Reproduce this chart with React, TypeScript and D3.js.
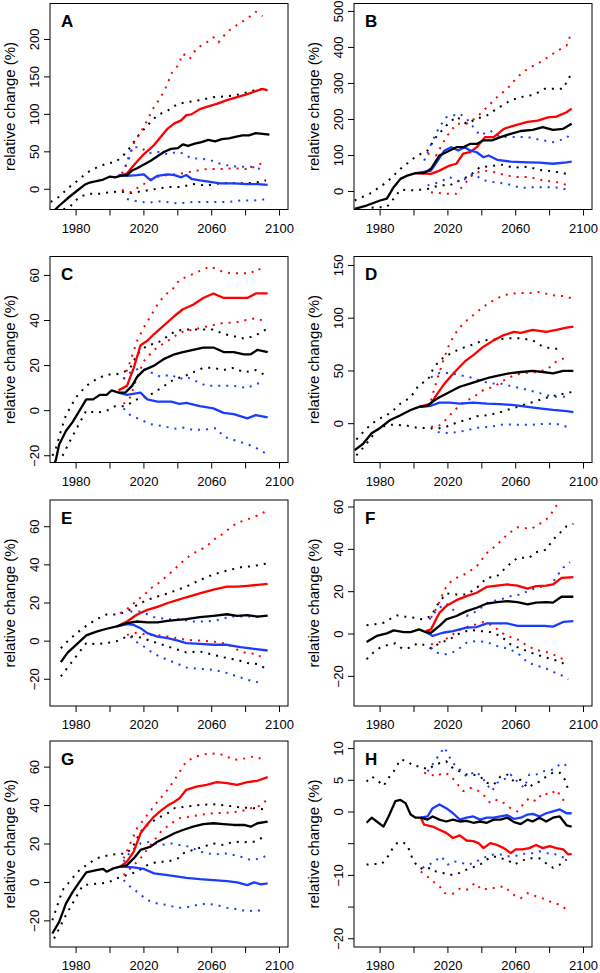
import React from 'react';
import * as d3 from 'd3';

type Pt = [number, number];

// ---------- Panel A ----------
const aBlack: Pt[] = [[1966,-31],[1970,-22],[1975,-12],[1980,-3],[1985,6],[1988,9],[1992,11],[1996,13],[2000,17],[2003,16],[2006,18],[2010,19],[2013,25],[2016,28],[2020,33],[2024,38],[2028,44],[2032,50],[2036,54],[2040,55],[2043,60],[2046,58],[2050,61],[2054,63],[2058,66],[2062,64],[2066,67],[2070,68],[2074,70],[2078,72],[2082,72],[2086,75],[2090,74],[2094,73]];
const aBlackHi: Pt[] = [[1965,-17],[1970,-10],[1975,1],[1980,10],[1987,23],[1993,30],[1999,35],[2003,36],[2007,43],[2012,56],[2016,70],[2022,85],[2028,99],[2034,105],[2040,114],[2045,116],[2053,119],[2061,123],[2069,124],[2077,127],[2085,132],[2092,135]];
const aBlackLo: Pt[] = [[1968,-30],[1976,-24],[1982,-10],[1988,-6],[1994,-6],[2000,-4],[2006,-3],[2012,-5],[2018,-3],[2026,0],[2034,3],[2042,3],[2049,7],[2057,5],[2065,8],[2073,8],[2081,8],[2089,10],[2092,12]];
const aRed: Pt[] = [[2005,18],[2010,21],[2014,32],[2020,47],[2026,59],[2030,70],[2034,81],[2038,88],[2042,92],[2045,99],[2048,100],[2053,107],[2057,110],[2063,114],[2069,119],[2075,123],[2081,127],[2086,131],[2090,134],[2093,132]];
const aRedHi: Pt[] = [[2007,21],[2011,39],[2014,61],[2018,76],[2022,92],[2026,110],[2030,123],[2034,141],[2036,154],[2040,165],[2043,181],[2047,174],[2051,188],[2057,196],[2061,203],[2064,196],[2069,210],[2076,221],[2081,228],[2086,237],[2090,231]];
const aRedLo: Pt[] = [[2007,-1],[2012,-4],[2020,7],[2026,16],[2034,19],[2042,21],[2049,24],[2057,27],[2065,27],[2073,28],[2081,27],[2087,31],[2091,38]];
const aBlue: Pt[] = [[2005,19],[2010,18],[2016,19],[2020,20],[2024,12],[2028,18],[2034,20],[2038,19],[2042,16],[2045,19],[2048,14],[2053,12],[2059,10],[2065,8],[2073,8],[2081,7],[2087,7],[2093,6]];
const aBlueHi: Pt[] = [[2009,30],[2013,56],[2018,56],[2023,48],[2028,50],[2034,47],[2040,50],[2044,47],[2048,41],[2053,41],[2059,39],[2065,34],[2071,31],[2077,30],[2083,30],[2089,27]];
const aBlueLo: Pt[] = [[2010,-13],[2016,-16],[2022,-18],[2030,-16],[2040,-19],[2049,-17],[2059,-17],[2069,-17],[2077,-15],[2085,-15],[2093,-13]];

// ---------- Panel B ----------
const bBlack: Pt[] = [[1965,-48],[1972,-39],[1980,-25],[1984,-20],[1988,12],[1992,35],[1996,44],[2001,51],[2006,51],[2010,63],[2015,100],[2019,109],[2025,123],[2029,123],[2033,132],[2037,132],[2041,142],[2046,142],[2051,151],[2057,160],[2063,168],[2070,171],[2076,179],[2082,171],[2088,174],[2093,188]];
const bBlackHi: Pt[] = [[1965,-25],[1974,-6],[1984,26],[1992,63],[2001,97],[2008,114],[2013,151],[2019,183],[2025,208],[2031,188],[2037,202],[2043,211],[2049,230],[2057,253],[2063,262],[2071,269],[2077,285],[2082,285],[2088,285],[2090,304],[2093,329]];
const bBlackLo: Pt[] = [[1975,-45],[1984,-43],[1988,-20],[1992,5],[2000,3],[2008,7],[2015,17],[2021,17],[2027,31],[2033,44],[2039,68],[2045,70],[2051,75],[2059,66],[2067,69],[2074,60],[2082,56],[2090,49]];
const bRed: Pt[] = [[2001,51],[2010,49],[2015,58],[2021,72],[2025,77],[2029,105],[2033,109],[2037,123],[2042,151],[2047,151],[2053,174],[2059,183],[2067,193],[2073,197],[2079,206],[2084,208],[2090,220],[2093,230]];
const bRedHi: Pt[] = [[2008,105],[2013,100],[2019,151],[2025,188],[2031,188],[2037,206],[2043,234],[2049,262],[2055,285],[2061,318],[2067,341],[2073,355],[2079,373],[2085,392],[2090,405],[2093,443]];
const bRedLo: Pt[] = [[2010,-2],[2018,-6],[2025,-6],[2029,17],[2035,49],[2041,58],[2047,54],[2055,44],[2061,40],[2068,40],[2076,31],[2084,26],[2091,17]];
const bBlue: Pt[] = [[2001,51],[2010,58],[2014,86],[2018,114],[2022,123],[2026,114],[2030,123],[2033,114],[2037,109],[2041,95],[2044,100],[2049,88],[2057,83],[2067,81],[2074,80],[2082,77],[2090,81],[2093,83]];
const bBlueHi: Pt[] = [[2006,86],[2011,142],[2015,179],[2019,206],[2023,211],[2027,216],[2031,202],[2035,179],[2039,156],[2045,169],[2051,151],[2059,151],[2067,151],[2074,144],[2082,137],[2090,148],[2093,165]];
const bBlueLo: Pt[] = [[2008,17],[2015,26],[2021,40],[2027,26],[2035,49],[2041,31],[2047,26],[2055,21],[2063,10],[2071,12],[2079,12],[2087,10],[2091,3]];

// ---------- Panel C ----------
const cBlack: Pt[] = [[1966,-26],[1968,-22],[1970,-15],[1974,-9],[1978,-5],[1982,0],[1986,5],[1990,5],[1994,7],[1998,7],[2001,9],[2005,8],[2009,8],[2013,11],[2016,15],[2020,18],[2026,20],[2032,23],[2038,25],[2043,26],[2049,27],[2055,28],[2061,28],[2067,26],[2073,26],[2079,25],[2083,25],[2087,27],[2093,26]];
const cBlackHi: Pt[] = [[1966,-20],[1968,-17],[1971,-9],[1974,-2],[1980,6],[1986,11],[1992,14],[1998,16],[2003,16],[2008,17],[2012,19],[2016,25],[2022,29],[2028,30],[2034,33],[2038,35],[2043,36],[2049,36],[2055,36],[2061,36],[2067,34],[2073,33],[2079,32],[2085,33],[2092,36]];
const cBlackLo: Pt[] = [[1972,-20],[1976,-14],[1981,-7],[1986,0],[1992,-1],[1998,0],[2003,2],[2009,2],[2016,5],[2021,6],[2026,8],[2032,11],[2038,14],[2043,15],[2049,17],[2055,19],[2061,19],[2067,18],[2073,19],[2079,17],[2086,18],[2091,16]];
const cRed: Pt[] = [[2005,9],[2010,11],[2014,19],[2018,29],[2022,31],[2026,34],[2032,38],[2038,42],[2043,45],[2049,47],[2055,50],[2061,52],[2067,50],[2075,50],[2081,50],[2086,52],[2093,52]];
const cRedHi: Pt[] = [[2008,14],[2012,22],[2016,31],[2020,37],[2024,42],[2028,47],[2032,51],[2037,54],[2041,58],[2047,60],[2053,62],[2059,64],[2065,62],[2071,61],[2077,61],[2083,61],[2087,63],[2091,62]];
const cRedLo: Pt[] = [[2008,3],[2012,6],[2016,15],[2020,22],[2026,27],[2032,30],[2038,33],[2043,35],[2049,36],[2055,37],[2061,38],[2067,39],[2073,39],[2079,40],[2086,41],[2090,40]];
const cBlue: Pt[] = [[2005,8],[2010,7],[2018,8],[2022,5],[2028,4],[2036,4],[2041,3],[2045,3.5],[2053,2],[2061,1],[2067,-1],[2073,-1.5],[2081,-3.4],[2086,-2],[2093,-3]];
const cBlueHi: Pt[] = [[2008,14],[2012,17],[2018,19],[2024,17],[2030,15],[2036,16],[2041,14],[2045,15],[2051,13],[2057,11],[2065,11],[2073,11],[2081,10],[2086,12],[2091,12]];
const cBlueLo: Pt[] = [[2008,1],[2012,-2],[2018,-4],[2024,-6],[2032,-7],[2038,-8],[2043,-7.5],[2049,-8.6],[2057,-8.3],[2063,-7.8],[2067,-11.5],[2073,-13],[2079,-14.4],[2085,-16],[2092,-19]];

// ---------- Panel D ----------
const dBlack: Pt[] = [[1965,-25],[1970,-19],[1975,-9],[1980,-4],[1986,3.5],[1992,8],[1998,13],[2003,16],[2008,17],[2011,21],[2015,25],[2021,30],[2027,35],[2033,38],[2039,41],[2045,44],[2051,46],[2057,48],[2063,49],[2070,50],[2076,49],[2082,47.6],[2088,50],[2094,50]];
const dBlackHi: Pt[] = [[1966,-15],[1970,-8],[1975,0],[1980,5],[1986,10],[1992,19],[1998,25],[2003,37],[2008,41],[2011,51],[2015,60],[2021,66],[2027,71],[2033,74],[2041,79],[2049,80],[2057,81],[2063,81],[2070,79],[2076,73],[2082,71],[2088,71]];
const dBlackLo: Pt[] = [[1966,-30],[1972,-19],[1978,-6],[1984,-1],[1990,-1],[1996,-2],[2002,-4],[2008,-4],[2013,-5],[2019,-3],[2025,1],[2031,3.5],[2037,7],[2043,8],[2049,10],[2055,13],[2061,16],[2067,19],[2073,22],[2079,25],[2084,27],[2090,29],[2093,30]];
const dRed: Pt[] = [[2003,16],[2010,19],[2014,29],[2018,38],[2024,49],[2030,59],[2035,65],[2041,73],[2047,79],[2053,84],[2059,87],[2063,86],[2070,89],[2078,87],[2084,89],[2090,91],[2094,92]];
const dRedHi: Pt[] = [[2010,22],[2014,44],[2018,63],[2021,76],[2025,87],[2029,95],[2035,103],[2041,111],[2047,117],[2053,122],[2061,124],[2069,124],[2075,125],[2080,122],[2088,121],[2093,119]];
const dRedLo: Pt[] = [[2010,-3],[2014,-3],[2018,2.5],[2024,13],[2030,21],[2035,25],[2041,32],[2047,35],[2053,41],[2059,46],[2065,48],[2073,49],[2079,52],[2084,59],[2090,63]];
const dBlue: Pt[] = [[2003,16],[2010,17],[2015,20],[2021,20],[2027,19],[2035,20],[2043,19],[2051,18.6],[2059,17.6],[2067,16],[2074,14.5],[2082,13],[2090,12],[2094,11]];
const dBlueHi: Pt[] = [[2010,44],[2015,48],[2021,48],[2027,46],[2033,44],[2039,41],[2045,38],[2051,38],[2059,35],[2067,32],[2074,29],[2082,25.5],[2090,25.5]];
const dBlueLo: Pt[] = [[2014,-8],[2021,-9],[2029,-7],[2037,-4],[2045,-3],[2053,-0.6],[2063,-1],[2070,-1],[2078,0],[2086,-0.6],[2091,-3.5]];

// ---------- Panel E ----------
const eBlack: Pt[] = [[1971,-11],[1975,-6],[1980,-2],[1986,3],[1992,5],[1998,6.5],[2004,7.7],[2010,9.4],[2016,10.3],[2022,9.8],[2028,9.8],[2034,10.6],[2040,11.2],[2045,11.5],[2053,12.6],[2061,13.3],[2069,14.1],[2075,13.3],[2081,13.6],[2087,12.9],[2093,13.4]];
const eBlackHi: Pt[] = [[1971,-3.7],[1975,0],[1980,4],[1986,8],[1992,11.5],[1998,14],[2004,14],[2010,15.5],[2016,19],[2022,21.6],[2028,23.4],[2034,25],[2040,27],[2045,28.6],[2053,32],[2061,35],[2069,37],[2077,38.7],[2085,39.4],[2093,40.8]];
const eBlackLo: Pt[] = [[1971,-18.5],[1974,-15],[1977,-11.5],[1980,-8],[1986,-1],[1992,-1.6],[1998,-1],[2004,0],[2010,2.4],[2016,2.4],[2022,0.7],[2028,-1],[2034,-2.8],[2040,-4.5],[2045,-5.9],[2053,-5.4],[2061,-7.2],[2069,-8.9],[2075,-9.8],[2081,-11.5],[2087,-12],[2091,-14]];
const eRed: Pt[] = [[2004,7.7],[2010,10.3],[2016,14],[2022,16.4],[2028,18],[2034,20],[2040,21.6],[2045,23],[2053,25],[2061,27],[2069,28.6],[2075,28.6],[2081,29],[2087,29.5],[2093,30]];
const eRedHi: Pt[] = [[2006,14.7],[2012,18],[2016,21.6],[2020,24],[2024,27.7],[2028,30],[2032,33],[2036,36],[2040,39.4],[2045,43.4],[2049,46],[2055,48.7],[2059,51.3],[2063,54.4],[2067,56.5],[2071,59.5],[2075,62],[2080,63.5],[2085,65.2],[2089,66.5],[2093,69]];
const eRedLo: Pt[] = [[2010,3.3],[2016,4.5],[2022,3.3],[2030,3],[2037,2],[2045,0.7],[2053,0.3],[2061,-0.2],[2069,-1.4],[2077,-5.4],[2081,-6.3],[2087,-6.8],[2090,-9]];
const eBlue: Pt[] = [[2004,7.7],[2010,8.9],[2014,8.5],[2018,6.8],[2022,4.2],[2028,2.4],[2034,1.6],[2040,0.3],[2045,-1],[2053,-1.4],[2061,-1.9],[2069,-1.9],[2077,-3.1],[2085,-4],[2093,-4.9]];
const eBlueHi: Pt[] = [[2012,15.5],[2018,15.5],[2026,12.6],[2034,11.5],[2041,11.5],[2049,10.3],[2057,10.3],[2065,11.2],[2071,12.9],[2080,13],[2090,12.8]];
const eBlueLo: Pt[] = [[2012,2.4],[2016,-0.7],[2020,-2.8],[2024,-5.4],[2029,-8],[2034,-9.8],[2038,-11.2],[2045,-13.8],[2053,-14.5],[2061,-15],[2069,-16.7],[2075,-18.5],[2081,-20.2],[2089,-22]];

// ---------- Panel F ----------
const fBlack: Pt[] = [[1972,-3.8],[1978,-0.9],[1984,0.3],[1988,1.7],[1994,0.9],[1998,0.9],[2003,2.2],[2007,0.9],[2010,0.6],[2015,3.8],[2019,6.9],[2025,8.5],[2031,10.8],[2037,12.4],[2043,14.4],[2049,15.1],[2055,15.5],[2061,15.1],[2067,14],[2072,14.8],[2078,15.1],[2082,14.8],[2087,17.6],[2094,17.6]];
const fBlackHi: Pt[] = [[1972,4.1],[1977,4.6],[1982,5.3],[1986,7.2],[1990,8.8],[1995,8.2],[2000,7.7],[2005,6.9],[2010,8.5],[2014,14],[2019,19.2],[2025,18.7],[2031,18.7],[2037,21.8],[2043,26.5],[2049,27.3],[2055,32],[2061,36],[2068,36],[2072,38.6],[2078,39.9],[2082,44.6],[2086,47.7],[2090,50.9],[2094,52.1]];
const fBlackLo: Pt[] = [[1972,-11.9],[1976,-8.8],[1980,-6.4],[1984,-5.3],[1989,-4.4],[1993,-6.9],[1998,-6.4],[2002,-4.4],[2007,-5.3],[2010,-6.8],[2015,-4.4],[2021,-2.5],[2027,0.3],[2033,1.9],[2039,1.4],[2045,0.9],[2051,-0.9],[2057,-4.9],[2063,-6.9],[2069,-8.8],[2075,-10.4],[2081,-11.9],[2087,-13.2],[2090,-15.5]];
const fRed: Pt[] = [[2007,1.4],[2010,2.2],[2015,10],[2019,13.2],[2025,16],[2031,17.9],[2037,19.5],[2043,22.3],[2049,22.9],[2055,23.4],[2061,22.9],[2067,21.4],[2072,22.6],[2078,22.9],[2082,23.4],[2087,26.5],[2094,26.9]];
const fRedHi: Pt[] = [[2010,7.7],[2014,13.2],[2018,21],[2022,25],[2025,26.5],[2031,28.6],[2037,32],[2043,38.3],[2049,42.2],[2055,47],[2061,50.4],[2065,50.1],[2069,49.6],[2075,52.5],[2079,54.8],[2082,58],[2085,61.9]];
const fRedLo: Pt[] = [[2010,-4.9],[2014,-4.1],[2018,-2.8],[2023,-0.2],[2029,3],[2035,4.1],[2041,5.7],[2047,3.8],[2051,0.9],[2055,-0.9],[2061,-2.5],[2067,-5.7],[2072,-7.5],[2078,-8.5],[2082,-9.6],[2088,-11.9],[2090,-13.2]];
const fBlue: Pt[] = [[2007,0.9],[2011,-0.9],[2017,0.6],[2023,1.4],[2031,3],[2037,3.3],[2043,5],[2049,5],[2055,5],[2061,3.8],[2069,3.8],[2077,3.8],[2082,3.5],[2088,5.7],[2094,6.1]];
const fBlueHi: Pt[] = [[2009,6.9],[2014,11.9],[2019,14.4],[2025,10],[2031,8.5],[2037,10.8],[2044,15.1],[2051,16.3],[2057,17.9],[2063,18.7],[2069,21],[2075,22.3],[2081,23.4],[2085,28.1],[2088,31.3],[2092,33.9]];
const fBlueLo: Pt[] = [[2010,-6.4],[2013,-8.8],[2019,-9.6],[2025,-8],[2031,-4.1],[2037,-3.3],[2043,-3.8],[2049,-5.7],[2055,-6.9],[2061,-8.8],[2067,-13.5],[2072,-14.8],[2078,-16.3],[2083,-18.2],[2087,-19.5],[2091,-21.4]];

// ---------- Panel G ----------
const gBlack: Pt[] = [[1966,-26.6],[1970,-20.5],[1974,-11],[1978,-4.9],[1982,0.3],[1986,5.2],[1992,6.4],[1996,7],[1998,5.6],[2002,7.3],[2006,8.2],[2010,9],[2014,12.5],[2018,16.9],[2024,18.6],[2028,21.2],[2034,23.8],[2038,25.6],[2043,27.3],[2049,29],[2055,30.3],[2061,30.8],[2067,30.3],[2073,29.9],[2079,29.9],[2083,29],[2087,30.8],[2093,31.7]];
const gBlackHi: Pt[] = [[1966,-19.7],[1969,-11.8],[1972,-4],[1976,0.3],[1981,5.6],[1986,9],[1992,12.5],[1998,13.9],[2004,14.8],[2010,15.1],[2014,19.5],[2018,26.4],[2022,29.9],[2028,33.4],[2034,36],[2038,38.6],[2045,39.5],[2053,40.3],[2061,40.7],[2069,40],[2077,39],[2085,38.6],[2091,38]];
const gBlackLo: Pt[] = [[1967,-29.2],[1970,-24],[1974,-17],[1979,-9.2],[1984,-1.4],[1990,-0.9],[1994,-0.5],[1999,0],[2004,2.1],[2010,3.8],[2016,5.6],[2022,9],[2028,10.8],[2034,10.8],[2040,12.5],[2043,15.1],[2049,16.9],[2055,18.6],[2061,20.3],[2067,19.5],[2073,21.2],[2079,20.9],[2085,21.2],[2091,23.8]];
const gRed: Pt[] = [[2006,8.2],[2010,10.8],[2014,16],[2018,25.6],[2022,30.3],[2026,34.3],[2030,37.4],[2034,40],[2038,42],[2041,43.8],[2045,48.2],[2051,49.9],[2057,50.8],[2063,52.2],[2069,51.7],[2075,50.8],[2081,52.2],[2087,52.9],[2093,54.8]];
const gRedHi: Pt[] = [[2008,12.5],[2012,20.3],[2016,28.2],[2022,35.1],[2028,42],[2034,48.2],[2040,56],[2045,63],[2051,65.6],[2059,67.3],[2067,66.4],[2073,63.8],[2081,64.7],[2085,65.6],[2091,63.8]];
const gRedLo: Pt[] = [[2008,3.8],[2014,9],[2018,12.5],[2024,19.5],[2030,26.4],[2036,30.8],[2041,33.4],[2047,34.3],[2053,35.1],[2061,36],[2069,36.3],[2077,36.9],[2083,38.6],[2089,40],[2093,43.5]];
const gBlue: Pt[] = [[2006,8.2],[2014,7.8],[2020,7],[2026,4.7],[2034,3.8],[2040,3],[2045,2.4],[2053,1.7],[2061,1.2],[2069,0.7],[2075,0],[2081,-1.4],[2085,0],[2089,-1],[2093,-0.5]];
const gBlueHi: Pt[] = [[2008,10.8],[2012,16],[2018,20.3],[2024,21.2],[2030,19.5],[2036,20.3],[2041,19.5],[2047,18.6],[2053,16],[2061,14.6],[2069,15.1],[2077,13.4],[2083,11.7],[2089,12.5],[2093,14.3]];
const gBlueLo: Pt[] = [[2008,1.2],[2012,-2.3],[2016,-4.9],[2022,-9.2],[2028,-11],[2034,-11.8],[2040,-13.2],[2045,-13],[2051,-11.8],[2057,-11],[2063,-11.8],[2069,-13.2],[2075,-13.9],[2081,-15],[2087,-14.4],[2091,-15.3]];

// ---------- Panel H ----------
const hBlack: Pt[] = [[1972,-1.7],[1975,-0.9],[1979,-1.7],[1982,-2.3],[1985,-0.7],[1989,1.7],[1992,1.9],[1995,1.4],[1998,-0.4],[2001,-0.9],[2004,-0.9],[2008,-1.2],[2011,-0.7],[2015,-1.2],[2019,-1.5],[2023,-1.2],[2027,-1.5],[2031,-1.4],[2035,-1.7],[2039,-1.5],[2043,-1.7],[2047,-1.2],[2051,-1.2],[2055,-0.9],[2059,-1.6],[2063,-1.9],[2067,-1.2],[2070,-1.5],[2074,-0.9],[2078,-1.5],[2082,-0.9],[2086,-0.7],[2090,-2.1],[2093,-2.3]];
const hBlackHi: Pt[] = [[1972,4.8],[1975,5.6],[1978,5.1],[1982,4.1],[1985,5.4],[1988,6.4],[1992,8.3],[1996,8],[2000,7.2],[2004,7.2],[2008,6.7],[2011,7.2],[2015,7.7],[2019,8],[2023,6.9],[2027,6.4],[2031,5.9],[2035,5.9],[2039,5.6],[2043,4.6],[2047,4.3],[2051,5.6],[2055,5.9],[2059,4.8],[2063,5.1],[2067,3.8],[2070,4.3],[2074,4.8],[2078,5.6],[2082,6.2],[2086,6.2],[2089,5.1],[2091,3.5],[2093,3.4]];
const hBlackLo: Pt[] = [[1972,-8.3],[1976,-8.2],[1981,-8.2],[1984,-7.3],[1987,-5.9],[1990,-4.9],[1993,-4.7],[1996,-5.2],[1999,-7.3],[2002,-8.6],[2006,-9.1],[2010,-8.8],[2013,-9.4],[2017,-9.6],[2020,-9.9],[2023,-9.9],[2027,-9.6],[2031,-9.1],[2035,-8.7],[2039,-8.3],[2043,-7.5],[2047,-7],[2051,-7.3],[2055,-7.5],[2059,-8.3],[2063,-7.8],[2067,-7.3],[2070,-7.3],[2074,-7.3],[2078,-8.1],[2082,-8.8],[2086,-8.3],[2090,-7.5]];
const hRed: Pt[] = [[2004,-0.9],[2006,-2],[2011,-2.3],[2015,-2.8],[2019,-3.3],[2023,-4.1],[2027,-3.7],[2031,-4.5],[2035,-4.6],[2038,-4.9],[2041,-5.7],[2045,-4.9],[2049,-5.2],[2053,-5.7],[2057,-6.5],[2060,-5.9],[2064,-5.9],[2068,-5.7],[2072,-5.2],[2076,-5.7],[2080,-5.4],[2084,-5.7],[2088,-5.9],[2091,-6.7],[2093,-6.6]];
const hRedHi: Pt[] = [[2006,6.2],[2010,5.9],[2013,5.6],[2017,6.2],[2021,5.9],[2025,4.6],[2029,3.3],[2033,3.8],[2037,3.5],[2041,2.7],[2045,1.4],[2049,1.9],[2053,1.4],[2057,0.6],[2061,0.1],[2065,1.4],[2068,2.2],[2072,1.7],[2076,3],[2080,2.7],[2084,3.5],[2088,1.9],[2091,1.5]];
const hRedLo: Pt[] = [[2004,-9.4],[2008,-10.2],[2011,-10.9],[2015,-11.7],[2018,-12.8],[2023,-12.9],[2027,-12.1],[2031,-12.3],[2036,-11.2],[2040,-12.3],[2045,-12],[2049,-12],[2053,-11.7],[2059,-13.1],[2063,-13.6],[2067,-12.8],[2072,-13.3],[2078,-13.8],[2082,-14.4],[2086,-14.6],[2090,-15.4]];
const hBlue: Pt[] = [[2004,-0.9],[2008,-0.7],[2011,0.6],[2015,1.2],[2019,0.6],[2023,-0.2],[2027,-1.2],[2031,-0.9],[2035,-0.7],[2039,-1.2],[2043,-0.9],[2047,-0.9],[2051,-0.7],[2055,-0.5],[2059,-1.1],[2063,-0.9],[2067,-0.4],[2070,-0.3],[2074,-0.7],[2078,-0.2],[2082,0.1],[2086,0.4],[2090,-0.2],[2093,-0.2]];
const hBlueHi: Pt[] = [[2008,6.4],[2011,7.5],[2015,9.1],[2018,10.2],[2020,9.1],[2023,7.7],[2027,6.7],[2031,5.6],[2036,6.4],[2040,5.6],[2043,4.3],[2046,3.3],[2049,4.6],[2053,5.1],[2057,5.9],[2061,4.8],[2065,3.8],[2068,5.9],[2072,5.9],[2076,6.4],[2082,6.7],[2086,7.5],[2089,7.6],[2091,6.4]];
const hBlueLo: Pt[] = [[2005,-8.8],[2009,-8.3],[2012,-7.8],[2016,-7],[2020,-8.3],[2023,-7.8],[2027,-7.9],[2031,-8.3],[2035,-8.1],[2039,-7.5],[2043,-7],[2047,-6.7],[2051,-6.7],[2055,-7],[2059,-7],[2063,-6.7],[2067,-6.5],[2070,-6.5],[2074,-6.2],[2078,-6.5],[2082,-6.5],[2086,-7],[2090,-7.3]];

// ---------- Axes ----------
const xTickYears = [1980, 2000, 2020, 2040, 2060, 2080, 2100];
const xLabelYears = [1980, 2020, 2060, 2100];
const xDomain: [number, number] = [1964.6, 2105];

const panelLetters = ['A', 'B', 'C', 'D', 'E', 'F', 'G', 'H'];
const yDomains: [number, number][] = [
  [-27, 248], [-50, 522], [-23, 68.4], [-36.8, 158.5],
  [-34, 74], [-34, 63.3], [-33.6, 73.6], [-21.3, 11.2],
];
const yTickSets = [
  [0, 50, 100, 150, 200], [0, 100, 200, 300, 400, 500], [-20, 0, 20, 40, 60], [0, 50, 100, 150],
  [-20, 0, 20, 40, 60], [-20, 0, 20, 40, 60], [-20, 0, 20, 40, 60], [-20, -15, -10, -5, 0, 5, 10],
];
const yLabelSets = [
  [0, 50, 100, 150, 200], [0, 100, 200, 300, 400, 500], [-20, 0, 20, 40, 60], [0, 50, 100, 150],
  [-20, 0, 20, 40, 60], [-20, 0, 20, 40, 60], [-20, 0, 20, 40, 60], [-20, -10, 0, 5, 10],
];
const yTitle = 'relative change (%)';

const seriesSets = [
  [aBlackLo, aBlackHi, aRedLo, aRedHi, aBlueLo, aBlueHi, aRed, aBlue, aBlack],
  [bBlackLo, bBlackHi, bRedLo, bRedHi, bBlueLo, bBlueHi, bRed, bBlue, bBlack],
  [cBlackLo, cBlackHi, cRedLo, cRedHi, cBlueLo, cBlueHi, cRed, cBlue, cBlack],
  [dBlackLo, dBlackHi, dRedLo, dRedHi, dBlueLo, dBlueHi, dRed, dBlue, dBlack],
  [eBlackLo, eBlackHi, eRedLo, eRedHi, eBlueLo, eBlueHi, eRed, eBlue, eBlack],
  [fBlackLo, fBlackHi, fRedLo, fRedHi, fBlueLo, fBlueHi, fRed, fBlue, fBlack],
  [gBlackLo, gBlackHi, gRedLo, gRedHi, gBlueLo, gBlueHi, gRed, gBlue, gBlack],
  [hBlackLo, hBlackHi, hRedLo, hRedHi, hBlueLo, hBlueHi, hRed, hBlue, hBlack],
];

const BLACK = '#000000';
const RED = '#ff0000';
const BLUE = '#1a3cff';
const seriesColors = [BLACK, BLACK, RED, RED, BLUE, BLUE, RED, BLUE, BLACK];
const seriesDotted = [true, true, true, true, true, true, false, false, false];

const FONT = '"Liberation Sans", Arial, Helvetica, sans-serif';
const PW = 238;
const PH = 206;
const colLeft = [50, 354];
const rowTop = [3.5, 256.5, 500, 741];

const fmt = (v: number) => (v < 0 ? '\u2212' + Math.abs(v) : String(v));

function Panel({ idx }: { idx: number }) {
  const x0 = colLeft[idx % 2];
  const y0 = rowTop[Math.floor(idx / 2)];
  const xs = d3.scaleLinear().domain(xDomain).range([0, PW]);
  const ys = d3.scaleLinear().domain(yDomains[idx]).range([PH, 0]);
  const line = d3.line<Pt>().x((d) => xs(d[0])).y((d) => ys(d[1]));
  const clipId = `clip-${idx}`;
  return (
    <g transform={`translate(${x0},${y0})`}>
      <defs>
        <clipPath id={clipId}>
          <rect x={0} y={0} width={PW} height={PH} />
        </clipPath>
      </defs>
      <g clipPath={`url(#${clipId})`}>
        {seriesSets[idx].map((s, i) => (
          <path
            key={i}
            d={line(s) || ''}
            fill="none"
            stroke={seriesColors[i]}
            strokeWidth={seriesDotted[i] ? 2 : 2.3}
            strokeDasharray={seriesDotted[i] ? '2 6' : undefined}
            strokeLinejoin="round"
          />
        ))}
      </g>
      <rect x={0} y={0} width={PW} height={PH} fill="none" stroke="#000" strokeWidth={1} />
      {xTickYears.map((t) => (
        <line key={t} x1={xs(t)} x2={xs(t)} y1={PH} y2={PH + 6} stroke="#000" strokeWidth={1} />
      ))}
      {xLabelYears.map((t) => (
        <text key={t} x={xs(t)} y={PH + 23} textAnchor="middle" fontSize={13} fontFamily={FONT}>
          {t}
        </text>
      ))}
      {yTickSets[idx].map((t) => (
        <line key={t} x1={-6} x2={0} y1={ys(t)} y2={ys(t)} stroke="#000" strokeWidth={1} />
      ))}
      {yLabelSets[idx].map((t) => (
        <text
          key={t}
          transform={`translate(${-11},${ys(t)}) rotate(-90)`}
          textAnchor="middle"
          fontSize={13}
          fontFamily={FONT}
        >
          {fmt(t)}
        </text>
      ))}
      <text
        transform={`translate(${-35},${PH / 2}) rotate(-90)`}
        textAnchor="middle"
        fontSize={15}
        fontFamily={FONT}
      >
        {yTitle}
      </text>
      <text x={11} y={23.5} fontSize={17} fontWeight="bold" fontFamily={FONT}>
        {panelLetters[idx]}
      </text>
    </g>
  );
}

export default function App() {
  return (
    <svg
      width={600}
      height={973}
      viewBox="0 0 600 973"
      style={{ position: 'absolute', left: 0, top: 0, background: '#fff' }}
    >
      <rect x={0} y={0} width={600} height={973} fill="#fff" />
      {panelLetters.map((_, i) => (
        <Panel key={i} idx={i} />
      ))}
    </svg>
  );
}
